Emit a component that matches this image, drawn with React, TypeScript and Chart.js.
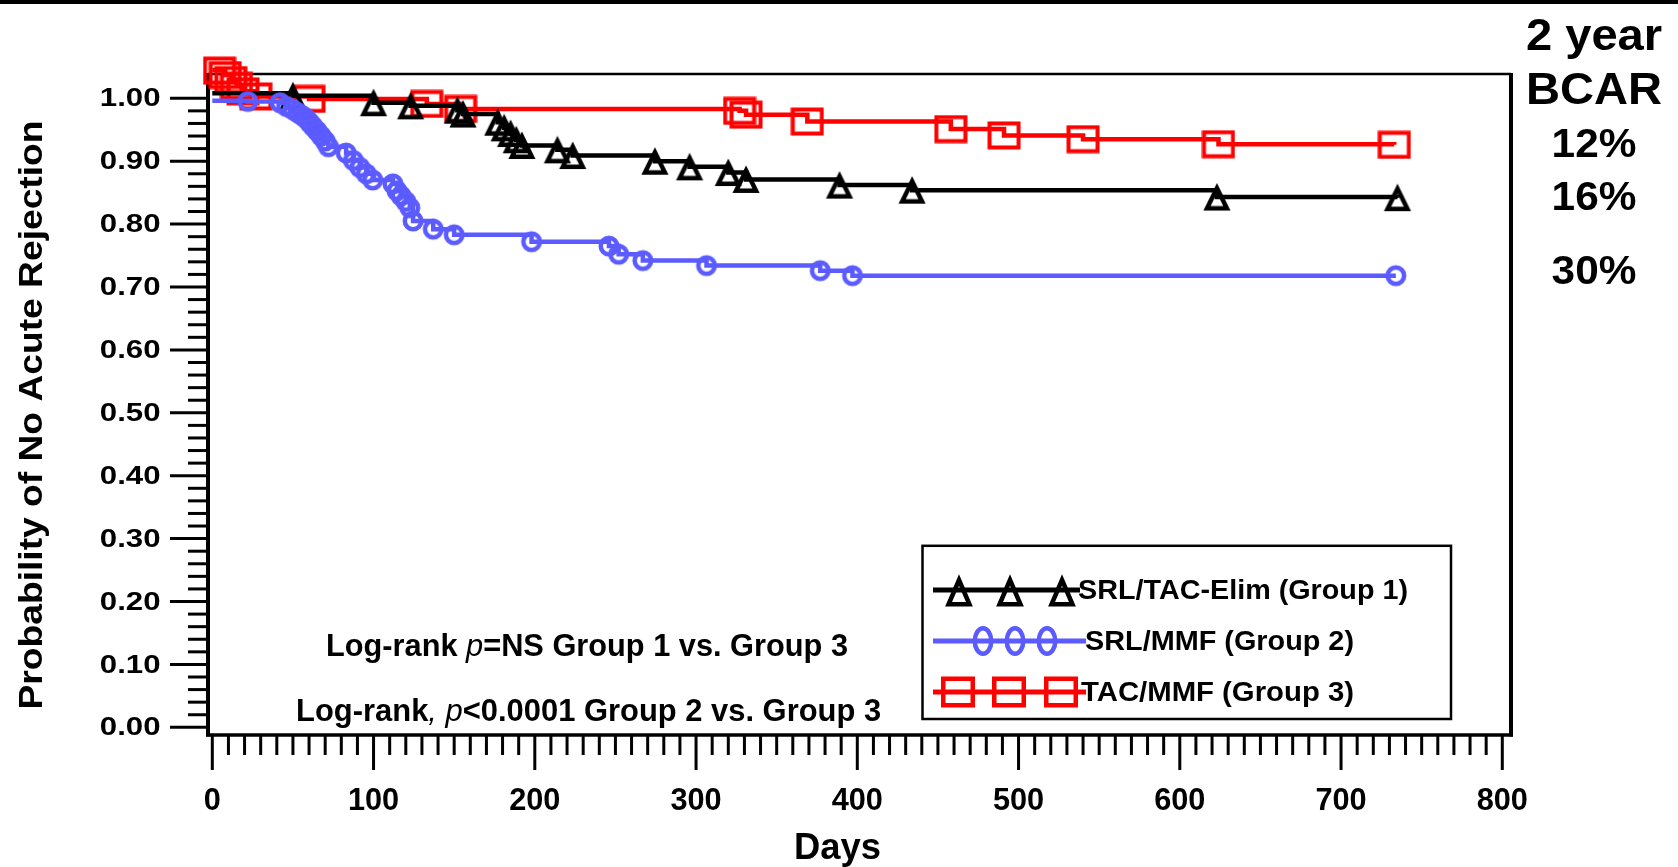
import React, { useEffect, useRef } from "react";
import { Chart, registerables } from "chart.js";

Chart.register(...registerables);

// Kaplan–Meier steps: day of each event and the survival estimate after it
const group1Days = [0, 50, 100, 123, 152, 155.5, 177, 181, 185, 188.5, 192, 214, 223.5, 274.5, 296, 320, 331, 389, 434, 623, 735];
const group1Surv = [1.008, 1.004, 0.993, 0.988, 0.981, 0.975, 0.962, 0.953, 0.944, 0.934, 0.925, 0.918, 0.909, 0.9, 0.891, 0.882, 0.871, 0.862, 0.854, 0.843, 0.842];

const group2Days = [0, 22, 42, 46, 50, 53, 56, 58.5, 60.5, 62.5, 65, 67.5, 70, 72, 83, 87.5, 91.5, 95.5, 99.5, 112, 114.5, 117, 120, 122.5, 124.5, 137, 150, 198, 246, 252, 267, 306.5, 377, 397, 734];
const group2Surv = [0.996, 0.995, 0.993, 0.987, 0.982, 0.977, 0.972, 0.967, 0.961, 0.955, 0.948, 0.94, 0.932, 0.923, 0.913, 0.901, 0.89, 0.88, 0.87, 0.864, 0.853, 0.845, 0.836, 0.826, 0.805, 0.792, 0.783, 0.772, 0.765, 0.752, 0.742, 0.734, 0.726, 0.718, 0.718];

const group3Days = [0, 4.5, 8, 11.5, 15, 19, 27, 60, 133, 154, 327, 331, 369, 458, 491, 540, 624, 733];
const group3Surv = [1.045, 1.044, 1.037, 1.029, 1.02, 1.011, 1.003, 0.999, 0.991, 0.983, 0.98, 0.974, 0.963, 0.951, 0.941, 0.935, 0.927, 0.926];

const dayTicks = [0, 100, 200, 300, 400, 500, 600, 700, 800];
const probTicks = [0, 0.1, 0.2, 0.3, 0.4, 0.5, 0.6, 0.7, 0.8, 0.9, 1.0];
const probTickLabels = ["0.00", "0.10", "0.20", "0.30", "0.40", "0.50", "0.60", "0.70", "0.80", "0.90", "1.00"];

const legendLabels = ["SRL/TAC-Elim (Group 1)", "SRL/MMF (Group 2)", "TAC/MMF (Group 3)"];
const bcarHeader = ["2 year", "BCAR"];
const bcarValues = ["12%", "16%", "30%"];

const xTitle = "Days";
const yTitle = "Probability of No Acute Rejection";

const BLUE = "#5b5bff";
const RED = "#ff0000";
const BLACK = "#000000";
const FONT = "'Liberation Sans', Arial, Helvetica, sans-serif";

type Ctx = CanvasRenderingContext2D;

function pathTriangle(g: Ctx, cx: number, cy: number, w: number, h: number, lw: number) {
  g.beginPath();
  g.moveTo(cx, cy - h / 2 + lw);
  g.lineTo(cx + w / 2 - lw * 0.9, cy + h / 2 - lw / 2);
  g.lineTo(cx - w / 2 + lw * 0.9, cy + h / 2 - lw / 2);
  g.closePath();
}

function strokeTriangle(g: Ctx, cx: number, cy: number, w: number, h: number, lw: number, color: string) {
  g.save();
  g.strokeStyle = color;
  g.lineWidth = lw;
  g.lineJoin = "miter";
  pathTriangle(g, cx, cy, w, h, lw);
  g.stroke();
  g.restore();
}

function strokeOval(g: Ctx, cx: number, cy: number, w: number, h: number, lw: number, color: string) {
  g.save();
  g.strokeStyle = color;
  g.lineWidth = lw;
  g.beginPath();
  g.ellipse(cx, cy, w / 2 - lw / 2, h / 2 - lw / 2, 0, 0, Math.PI * 2);
  g.stroke();
  g.restore();
}

function strokeBox(g: Ctx, cx: number, cy: number, w: number, h: number, lw: number, color: string) {
  g.save();
  g.strokeStyle = color;
  g.lineWidth = lw;
  g.lineJoin = "miter";
  g.strokeRect(cx - w / 2 + lw / 2, cy - h / 2 + lw / 2, w - lw, h - lw);
  g.restore();
}

function markerCanvas(w: number, h: number, draw: (g: Ctx, cx: number, cy: number) => void) {
  const c = document.createElement("canvas");
  c.width = w;
  c.height = h;
  const g = c.getContext("2d") as Ctx;
  draw(g, w / 2, h / 2);
  return c;
}

function scaledText(
  ctx: Ctx,
  text: string,
  x: number,
  y: number,
  font: string,
  sx: number,
  align: CanvasTextAlign = "left",
  baseline: CanvasTextBaseline = "alphabetic"
) {
  ctx.save();
  ctx.font = font;
  ctx.fillStyle = BLACK;
  ctx.textAlign = align;
  ctx.textBaseline = baseline;
  ctx.translate(x, y);
  ctx.scale(sx, 1);
  ctx.fillText(text, 0, 0);
  ctx.restore();
}

// draws text squeezed or stretched horizontally to a given width
function fittedText(
  ctx: Ctx,
  text: string,
  x: number,
  y: number,
  font: string,
  width: number,
  align: CanvasTextAlign = "left",
  baseline: CanvasTextBaseline = "alphabetic"
) {
  ctx.save();
  ctx.font = font;
  const sx = width / ctx.measureText(text).width;
  ctx.restore();
  scaledText(ctx, text, x, y, font, sx, align, baseline);
}

function centeredRuns(ctx: Ctx, runs: { text: string; font: string }[], cx: number, y: number, width: number) {
  ctx.save();
  ctx.fillStyle = BLACK;
  ctx.textAlign = "left";
  ctx.textBaseline = "alphabetic";
  let total = 0;
  const widths = runs.map((r) => {
    ctx.font = r.font;
    const w = ctx.measureText(r.text).width;
    total += w;
    return w;
  });
  const sx = width / total;
  ctx.translate(cx - width / 2, y);
  ctx.scale(sx, 1);
  let x = 0;
  runs.forEach((r, i) => {
    ctx.font = r.font;
    ctx.fillText(r.text, x, 0);
    x += widths[i];
  });
  ctx.restore();
}

function line(ctx: Ctx, x1: number, y1: number, x2: number, y2: number) {
  ctx.beginPath();
  ctx.moveTo(x1, y1);
  ctx.lineTo(x2, y2);
  ctx.stroke();
}

const decorations = {
  id: "decorations",
  beforeDraw(chart: any) {
    const ctx: Ctx = chart.ctx;
    ctx.save();
    ctx.fillStyle = "#ffffff";
    ctx.fillRect(0, 0, chart.width, chart.height);
    ctx.fillStyle = BLACK;
    ctx.fillRect(0, 0, chart.width, 4);
    ctx.restore();
  },
  beforeDatasetsDraw(chart: any) {
    const ctx: Ctx = chart.ctx;
    const { left, right, top, bottom } = chart.chartArea;
    const xs = chart.scales.x;
    const ys = chart.scales.y;
    ctx.save();
    ctx.strokeStyle = BLACK;
    ctx.lineCap = "butt";

    // plot frame
    ctx.lineWidth = 2.5;
    line(ctx, left, top + 1, right, top + 1);
    ctx.lineWidth = 4;
    line(ctx, left, top, left, bottom + 1.5);
    line(ctx, right, top, right, bottom + 1.5);
    ctx.lineWidth = 3.5;
    line(ctx, left - 2, bottom, right + 2, bottom);

    // x-axis ticks: long at labelled days, short every 10 days
    ctx.lineWidth = 3;
    for (let i = 0; i < dayTicks.length; i++) {
      const px = xs.getPixelForValue(dayTicks[i]);
      line(ctx, px, bottom, px, bottom + 35);
      if (i < dayTicks.length - 1) {
        const step = (dayTicks[i + 1] - dayTicks[i]) / 10;
        for (let k = 1; k < 10; k++) {
          const mx = xs.getPixelForValue(dayTicks[i] + k * step);
          line(ctx, mx, bottom, mx, bottom + 20);
        }
      }
    }

    // y-axis ticks: long at labelled values, short every 0.02
    for (let i = 0; i < probTicks.length; i++) {
      const py = ys.getPixelForValue(probTicks[i]);
      line(ctx, left - 38, py, left, py);
      if (i < probTicks.length - 1) {
        const step = (probTicks[i + 1] - probTicks[i]) / 5;
        for (let k = 1; k < 5; k++) {
          const my = ys.getPixelForValue(probTicks[i] + k * step);
          line(ctx, left - 20, my, left, my);
        }
      }
    }
    ctx.restore();
  },
  afterDatasetsDraw(chart: any) {
    const ctx: Ctx = chart.ctx;
    const { left } = chart.chartArea;
    const xs = chart.scales.x;
    const ys = chart.scales.y;

    // tick labels
    dayTicks.forEach((d) => {
      scaledText(ctx, String(d), xs.getPixelForValue(d), 801, `bold 32px ${FONT}`, 0.96, "center", "middle");
    });
    probTicks.forEach((v, i) => {
      scaledText(ctx, probTickLabels[i], left - 47.5, ys.getPixelForValue(v) + 1, `bold 26px ${FONT}`, 1.2, "right", "middle");
    });

    // axis titles
    fittedText(ctx, xTitle, 837.5, 859, `bold 36px ${FONT}`, 87, "center");
    ctx.save();
    ctx.translate(33, 415);
    ctx.rotate(-Math.PI / 2);
    fittedText(ctx, yTitle, 0, 0, `bold 34px ${FONT}`, 589, "center", "middle");
    ctx.restore();

    // log-rank comparisons
    const bold = `bold 32px ${FONT}`;
    const ital = `italic 32px ${FONT}`;
    centeredRuns(
      ctx,
      [
        { text: "Log-rank ", font: bold },
        { text: "p", font: ital },
        { text: "=NS Group 1 vs. Group 3", font: bold },
      ],
      587,
      656,
      522
    );
    centeredRuns(
      ctx,
      [
        { text: "Log-rank", font: bold },
        { text: ", ", font: ital },
        { text: "p", font: ital },
        { text: "<0.0001 Group 2 vs. Group 3", font: bold },
      ],
      588.6,
      721,
      585
    );

    // 2-year biopsy-confirmed acute rejection rates
    scaledText(ctx, bcarHeader[0], 1594, 49.5, `bold 44px ${FONT}`, 1.07, "center");
    scaledText(ctx, bcarHeader[1], 1594, 104, `bold 44px ${FONT}`, 1.07, "center");
    const bcarY = [157, 209.5, 284];
    bcarValues.forEach((t, i) => scaledText(ctx, t, 1594, bcarY[i], `bold 40px ${FONT}`, 1.06, "center"));

    // legend
    ctx.save();
    ctx.fillStyle = "#ffffff";
    ctx.fillRect(922.5, 545.8, 528.5, 173.2);
    ctx.strokeStyle = BLACK;
    ctx.lineWidth = 2.5;
    ctx.strokeRect(922.5, 545.8, 528.5, 173.2);
    ctx.restore();

    const rows = [590, 641, 692];
    const colors = [BLACK, BLUE, RED];
    const lineEnds = [1080, 1086, 1086];
    const markX = [
      [959, 1010, 1062],
      [983, 1015, 1047],
      [958, 1009, 1061],
    ];
    const textX = [1078, 1085, 1081];
    const textW = [330, 269, 273];
    rows.forEach((ry, r) => {
      ctx.save();
      ctx.strokeStyle = colors[r];
      ctx.lineWidth = 5;
      line(ctx, 933, ry, lineEnds[r], ry);
      ctx.restore();
      markX[r].forEach((mx) => {
        if (r === 0) strokeTriangle(ctx, mx, ry + 1, 29, 31, 4.5, BLACK);
        else if (r === 1) strokeOval(ctx, mx, ry, 21, 30, 4.5, BLUE);
        else strokeBox(ctx, mx, ry, 34, 31, 4.5, RED);
      });
      fittedText(ctx, legendLabels[r], textX[r], ry + 1, `bold 28px ${FONT}`, textW[r], "left", "middle");
    });
  },
};

export default function App() {
  const canvasRef = useRef<HTMLCanvasElement | null>(null);

  useEffect(() => {
    document.body.style.margin = "0";
    document.body.style.overflow = "hidden";
    const canvas = canvasRef.current;
    if (!canvas) return;

    const triangle = markerCanvas(30, 29, (g, cx, cy) => strokeTriangle(g, cx, cy, 28, 27, 4.5, BLACK));
    const circle = markerCanvas(24, 24, (g, cx, cy) => strokeOval(g, cx, cy, 21, 21, 4.5, BLUE));
    const box = markerCanvas(34, 29, (g, cx, cy) => strokeBox(g, cx, cy, 33, 28, 4, RED));

    const toPoints = (days: number[], surv: number[]) => days.map((d, i) => ({ x: d, y: surv[i] }));
    const markerRadius = (c: any) => (c.dataIndex === 0 ? 0 : 10);

    const chart = new Chart(canvas, {
      type: "line",
      data: {
        datasets: [
          {
            label: legendLabels[1],
            data: toPoints(group2Days, group2Surv),
            borderColor: BLUE,
            borderWidth: 4.5,
            stepped: "before",
            pointStyle: circle as any,
            pointRadius: markerRadius,
            fill: false,
            clip: false as any,
          },
          {
            label: legendLabels[0],
            data: toPoints(group1Days, group1Surv),
            borderColor: BLACK,
            borderWidth: 4.5,
            stepped: "before",
            pointStyle: triangle as any,
            pointRadius: markerRadius,
            fill: false,
            clip: false as any,
          },
          {
            label: legendLabels[2],
            data: toPoints(group3Days, group3Surv),
            borderColor: RED,
            borderWidth: 4.5,
            stepped: "before",
            pointStyle: box as any,
            pointRadius: markerRadius,
            fill: false,
            clip: false as any,
          },
        ],
      },
      options: {
        responsive: false,
        animation: false,
        events: [],
        layout: { padding: { left: 208, right: 167, top: 73, bottom: 132 } },
        scales: {
          x: { type: "linear", min: -2.67, max: 805.4, display: false },
          y: { type: "linear", min: -0.0122, max: 1.0402, display: false },
        },
        plugins: {
          legend: { display: false },
          tooltip: { enabled: false },
        },
      },
      plugins: [decorations],
    });

    return () => chart.destroy();
  }, []);

  return (
    <div style={{ width: 1678, height: 867 }}>
      <canvas ref={canvasRef} width={1678} height={867} style={{ display: "block" }} />
    </div>
  );
}
